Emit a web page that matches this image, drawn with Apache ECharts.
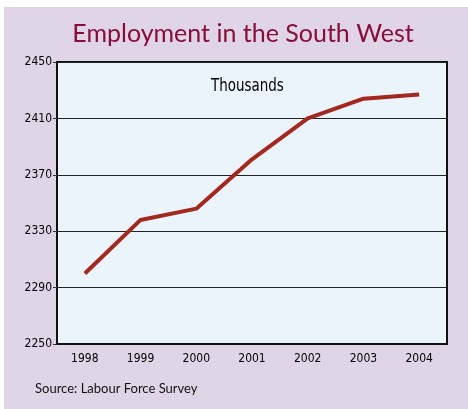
<!DOCTYPE html>
<html><head><meta charset="utf-8">
<script src="https://cdn.jsdelivr.net/npm/echarts@6/dist/echarts.min.js"></script>
<style>
html,body{margin:0;padding:0;background:#fff;}
#c{position:absolute;left:4px;top:7px;width:464px;height:402px;}
</style></head>
<body><div id="c"></div>
<script>
const years = ['1998','1999','2000','2001','2002','2003','2004'];
const employment = [2300, 2338, 2346, 2381, 2410, 2424, 2427];
const titleText = 'Employment in the South West';
const unitText = 'Thousands';
const sourceText = 'Source: Labour Force Survey';

const chart = echarts.init(document.getElementById('c'));
const condensed = '"DejaVu Sans Condensed", "Liberation Sans Narrow", "DejaVu Sans", sans-serif';
chart.setOption({
  animation: false,
  backgroundColor: '#e0d5e6',
  title: {
    text: titleText, left: 234, top: 9, textAlign: 'center',
    textStyle: {fontFamily: 'Lato, "Open Sans", sans-serif', fontWeight: 'normal', fontSize: 25, color: '#880d3a'}
  },
  grid: {left: 53, top: 55, right: 21, bottom: 65, show: true, backgroundColor: '#ebf3fb', borderColor: '#111', borderWidth: 2},
  xAxis: {
    type: 'category', data: years, boundaryGap: true,
    axisLine: {lineStyle: {color: '#111', width: 2}},
    axisTick: {alignWithLabel: true, length: 5, lineStyle: {color: '#333', width: 2}},
    axisLabel: {margin: 9, color: '#000', fontFamily: condensed, fontSize: 12, fontWeight: 500},
    splitLine: {show: false}
  },
  yAxis: {
    type: 'value', min: 2250, max: 2450, interval: 40,
    axisLine: {show: true, lineStyle: {color: '#111', width: 2}},
    axisTick: {show: true, length: 4, lineStyle: {color: '#333', width: 1}},
    axisLabel: {margin: 5, color: '#000', fontFamily: condensed, fontSize: 12, fontWeight: 500, formatter: v => String(v)},
    splitLine: {lineStyle: {color: '#222', width: 1}}
  },
  graphic: [
    {type: 'text', x: 207, y: 70, scaleX: 0.83, style: {text: unitText, font: '18px ' + condensed, fill: '#000'}},
    {type: 'text', left: 31, top: 375, style: {text: sourceText, font: '13px Lato, "Open Sans", sans-serif', fill: '#111'}}
  ],
  series: [{
    type: 'line', data: employment, symbol: 'none',
    lineStyle: {color: '#a3291f', width: 4}
  }]
});
</script></body></html>
